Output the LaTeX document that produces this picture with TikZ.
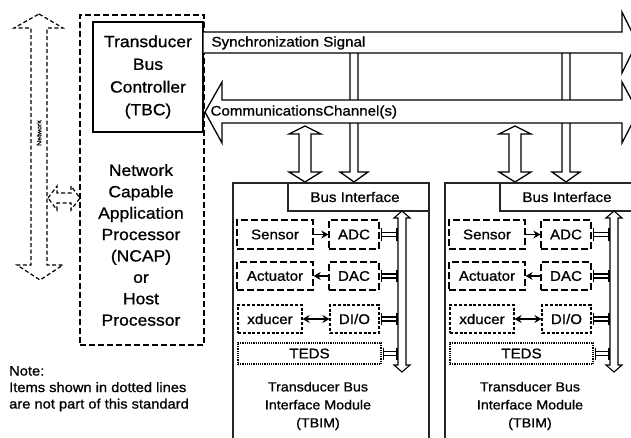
\documentclass[tikz,border=0pt]{standalone}
\usepackage{fontspec}
\setmainfont{Liberation Sans}[FakeStretch=1.08, FakeBold=0.9]
\usetikzlibrary{arrows.meta,calc}

\tikzset{
  ink/.style={draw=black, line width=1.3pt},
  netdash/.style={draw=black, line width=1.2pt, dash pattern=on 4pt off 2.5pt},
  ncapbox/.style={draw=black, line width=1.5pt, dash pattern=on 6pt off 3pt, inner sep=0pt},
  tbimbox/.style={draw=black!85, line width=1.4pt, inner sep=0pt},
  thinbox/.style={draw=black!85, line width=1.1pt, inner sep=0pt},
  dashbox/.style={draw=black, line width=1.3pt, dash pattern=on 7pt off 3pt, inner sep=0pt},
  dotbox/.style={draw=black, line width=1.1pt, dash pattern=on 3pt off 1.8pt, inner sep=0pt},
  tedsbox/.style={draw=black, line width=1.1pt, dash pattern=on 1.2pt off 1pt, inner sep=0pt},
  lbl/.style={font=\fontsize{14}{17}\selectfont},
  tbctext/.style={font=\fontsize{16.2}{22.7}\selectfont, align=center},
  ncaptext/.style={font=\fontsize{16.2}{21.4}\selectfont, align=center},
  conn/.style={line width=1.4pt, -{Stealth[length=7pt,width=8pt]}},
  bothconn/.style={line width=1.4pt, {Stealth[length=7pt,width=8pt]}-{Stealth[length=7pt,width=8pt]}},
  beam/.style={draw=black, line width=1.1pt},
}

% short I-beam link between a module block and the internal bus
\newcommand\tbconn[2]{%
  \draw[beam] ($(#1)+(2,-6)$) -- ($(#1)+(2,6)$)
              ($(#2)+(-1,-6)$) -- ($(#2)+(-1,6)$)
              ($(#1)+(2,-2)$) -- ($(#2)+(-1,-2)$)
              ($(#1)+(2,2)$) -- ($(#2)+(-1,2)$);}

\begin{document}
\begin{tikzpicture}[x=1pt,y=-1pt,line join=miter]
\useasboundingbox (0,0) rectangle (631,438);
\clip (0,0) rectangle (631,438);

% network block arrow (outside the standard)
\draw[netdash] (39,14) -- (63,28) -- (47,28) -- (47,265) -- (63,265) -- (40,280)
  -- (17,265) -- (31,265) -- (31,28) -- (14,28) -- cycle;
\node[rotate=90, font=\fontsize{6.5}{7}\selectfont] (netlbl) at (39,133) {Network};

% NCAP / host processor
\node[ncapbox, minimum width=124pt, minimum height=330pt] (ncap) at (142,180) {};
\node[ncaptext] (ncaptxt) at (141,245)
  {Network\\Capable\\Application\\Processor\\(NCAP)\\or\\Host\\Processor};

% link between network and NCAP
\draw[netdash] (48,198) -- (57,186) -- (57,193) -- (71,193) -- (71,186) -- (80,198)
  -- (71,210) -- (71,203) -- (57,203) -- (57,210) -- cycle;

% transducer bus controller
\node[ink, fill=white, inner sep=0pt, minimum width=110pt, minimum height=110pt,
      tbctext] (tbc) at (148,77) {Transducer\\Bus\\Controller\\(TBC)};

% synchronization drops to each module
\foreach \x in {354,566} {
  \draw[ink, fill=white] (\x-4,53) -- (\x-4,172) -- (\x-14,172) -- (\x,182)
    -- (\x+14,172) -- (\x+4,172) -- (\x+4,53);
}

% synchronization signal bus
\draw[ink, fill=white] (tbc.east |- 0,32) -- (622,32) -- (622,12) -- (637,42.5)
  -- (622,73) -- (622,53) -- (tbc.east |- 0,53);
\node[lbl, anchor=west] (synclbl) at (208,43) {Synchronization Signal};

% communications channel bus
\draw[ink, fill=white] (205,112) -- (222,82) -- (222,100) -- (622,100) -- (622,82)
  -- (638,112) -- (622,143) -- (622,123) -- (222,123) -- (222,143) -- cycle;
\node[lbl, anchor=west] (commlbl) at (207,112) {CommunicationsChannel(s)};

% channel <-> bus interface links
\foreach \x in {305,515} {
  \draw[ink, fill=white] (\x,126) -- (\x+16,134) -- (\x+6,134) -- (\x+6,172)
    -- (\x+16,172) -- (\x,182) -- (\x-16,172) -- (\x-6,172) -- (\x-6,134)
    -- (\x-16,134) -- cycle;
}

% transducer bus interface modules
\foreach \i/\d in {1/0,2/212} {
\begin{scope}[xshift=\d pt]
  \node[tbimbox, minimum width=196pt, minimum height=280pt] (tbim\i) at (331,323) {};
  \node[thinbox, minimum width=141pt, minimum height=28pt] (bif\i) at (358.5,197) {};
  \node[lbl] (biftxt\i) at (355,197) {Bus Interface};

  % internal bus
  \draw[ink, line width=1.1pt, fill=white] (402,211) -- (410,218) -- (406,218)
    -- (406,365) -- (410,365) -- (402,372) -- (394,365) -- (398,365) -- (398,218)
    -- (394,218) -- cycle;
  \coordinate (bus\i) at (398,290);

  \node[dashbox, lbl, minimum width=76pt, minimum height=29pt] (sen\i) at (275,234.5) {Sensor};
  \node[dashbox, lbl, minimum width=50pt, minimum height=29pt] (adc\i) at (354,234.5) {ADC};
  \node[dashbox, lbl, minimum width=76pt, minimum height=28pt] (act\i) at (275,276) {Actuator};
  \node[dashbox, lbl, minimum width=50pt, minimum height=28pt] (dac\i) at (354,276) {DAC};
  \node[dotbox, lbl, minimum width=64pt, minimum height=28pt] (xdc\i) at (270,319) {xducer};
  \node[dotbox, lbl, minimum width=49pt, minimum height=28pt] (dio\i) at (354.5,319) {DI/O};
  \node[tedsbox, lbl, minimum width=143pt, minimum height=21pt] (teds\i) at (309.5,353.5) {TEDS};

  \draw[conn] (sen\i) -- (adc\i);
  \draw[conn] (dac\i) -- (act\i);
  \draw[bothconn] (xdc\i) -- (dio\i);

  \coordinate (ba\i) at (adc\i.east -| bus\i);
  \coordinate (bd\i) at (dac\i.east -| bus\i);
  \coordinate (bo\i) at (dio\i.east -| bus\i);
  \coordinate (bt\i) at (teds\i.east -| bus\i);
  \tbconn{adc\i.east}{ba\i}
  \tbconn{dac\i.east}{bd\i}
  \tbconn{dio\i.east}{bo\i}
  \tbconn{teds\i.east}{bt\i}

  \node[align=center, font=\fontsize{13.2}{18}\selectfont] (tbimlbl\i) at (318,406)
    {Transducer Bus\\Interface Module\\(TBIM)};
\end{scope}
}

% note
\node[anchor=north west, align=left, inner sep=0pt, font=\fontsize{13.6}{16.5}\selectfont]
  (note) at (9,366) {Note:\\Items shown in dotted lines\\are not part of this standard};
\end{tikzpicture}
\end{document}
